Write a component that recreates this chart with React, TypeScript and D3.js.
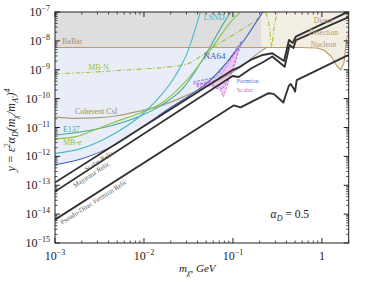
import React from "react";
import * as d3 from "d3";

type Pt = [number, number];

// exclusion curves, [m_chi (GeV), y]
const lsnd: Pt[] = [[1e-3, 1.27e-12], [1.91e-3, 1.82e-12], [4.17e-3, 5.1e-12], [9.08e-3, 2.5e-11], [1.53e-2, 1.24e-10], [2.25e-2, 6.1e-10], [3.15e-2, 4.8e-9], [3.89e-2, 3.5e-8], [4.3e-2, 1.0e-7]];
const e137: Pt[] = [[1e-3, 5.5e-12], [1.91e-3, 7.0e-12], [4.17e-3, 1.13e-11], [9.08e-3, 2.5e-11], [1.53e-2, 5.6e-11], [2.77e-2, 2.34e-10], [4.91e-2, 3.25e-9], [7.64e-2, 3.55e-8], [9.4e-2, 1.0e-7]];
const mbE: Pt[] = [[1e-3, 4.04e-12], [1.68e-3, 4.73e-12], [2.82e-3, 8.3e-12], [4.74e-3, 1.56e-11], [9.08e-3, 3.2e-11], [1.53e-2, 6.6e-11], [2.77e-2, 3.23e-10], [5.58e-2, 4.84e-9], [9.89e-2, 5.3e-8], [0.122, 1.0e-7]];
const na64: Pt[] = [[1e-3, 5.1e-13], [2.18e-3, 8.9e-13], [4.74e-3, 2.5e-12], [1.035e-2, 1.23e-11], [1.98e-2, 4.8e-11], [3.33e-2, 1.34e-10], [5.58e-2, 4.4e-10], [9.4e-2, 2.56e-9], [0.139, 1.26e-8], [0.216, 1.0e-7]];
const coherent: Pt[] = [[1e-3, 2.33e-11], [1.68e-3, 2.07e-11], [2.82e-3, 2.15e-11], [4.74e-3, 2.5e-11], [9.08e-3, 3.75e-11], [1.53e-2, 5.6e-11], [2.77e-2, 1.15e-10], [5.58e-2, 3.23e-10], [0.122, 1.25e-9], [0.216, 4.84e-9], [0.24, 5.9e-9]];
const mbN: Pt[] = [[1e-3, 7.2e-10], [5.41e-3, 9.5e-10], [2.77e-2, 1.47e-9], [6.53e-2, 7.2e-9], [0.139, 3.03e-8], [0.195, 6.2e-8], [0.224, 1.0e-7]];
const mbNDip: Pt[] = [[0.233, 1e-7], [0.259, 2.4e-8], [0.272, 6.2e-9], [0.287, 2.4e-8], [0.318, 1e-7]];
const babar: Pt[] = [[1e-3, 5.9e-9], [0.21, 5.9e-9]];
const nucleon: Pt[] = [[0.21, 5.9e-9], [0.578, 5.9e-9], [0.876, 5.7e-9], [1.05, 4.84e-9], [1.26, 3.0e-9], [1.47, 1.35e-9], [1.63, 9.8e-10], [1.77, 1.72e-9], [1.86, 7.2e-9], [1.93, 1.48e-8], [2.0, 1.73e-8]];

// thermal relic targets
const scalarRelic: Pt[] = [[1e-3, 1.24e-13], [0.099, 9.8e-10], [0.116, 1.2e-9], [0.158, 2.18e-9], [0.216, 3.25e-9], [0.277, 3.72e-9], [0.375, 2.01e-9], [0.427, 1.07e-8], [0.47, 8.45e-9], [0.508, 1.4e-8], [2.0, 1.04e-7]];
const majoranaRelic: Pt[] = [[1e-3, 6.05e-14], [0.099, 6.1e-10], [0.116, 5.6e-10], [0.158, 1.08e-9], [0.219, 1.86e-9], [0.277, 2.88e-9], [0.382, 1.28e-9], [0.433, 7.2e-9], [0.479, 5.7e-9], [0.511, 1.07e-8], [2.0, 6.7e-8]];
const pseudoDiracRelic: Pt[] = [[1e-3, 6.4e-15], [0.1016, 5.8e-11], [0.122, 5.0e-11], [0.252, 1.54e-10], [0.287, 1.46e-10], [0.369, 7.3e-11], [0.392, 1.34e-10], [0.424, 2.75e-10], [0.446, 3.2e-10], [0.479, 2.3e-10], [0.499, 1.75e-10], [0.521, 4.4e-10], [2.0, 3.3e-9]];

// fermion / scalar regions
const fermionRegion: Pt[] = [[0.036, 3.8e-10], [0.0653, 5.6e-10], [0.125, 9.9e-9], [0.1098, 2.56e-9], [0.094, 6.1e-10], [0.0763, 2.17e-10], [0.0559, 3.23e-10], [0.036, 3.23e-10]];
const scalarRegion: Pt[] = [[0.0389, 2.98e-10], [0.0671, 4.4e-10], [0.1218, 7.2e-9], [0.1016, 1.35e-9], [0.0847, 2.34e-10], [0.0783, 1.15e-10], [0.0724, 2.0e-10], [0.0559, 2.75e-10], [0.0389, 2.54e-10]];

const xMajor = [1e-3, 1e-2, 1e-1, 1];
const xLabels = ["-3", "-2", "-1", ""];
const yExponents = [-15, -14, -13, -12, -11, -10, -9, -8, -7];

const W = 366, H = 282;
const L = 55, R = 348.7, T = 12, B = 243;

export default function App() {
  const x = d3.scaleLog().domain([1e-3, 2]).range([L, R]);
  const y = d3.scaleLog().domain([1e-15, 1e-7]).range([B, T]);

  const smooth = d3.line<Pt>().x(d => x(d[0])).y(d => y(d[1])).curve(d3.curveMonotoneX);
  const straight = d3.line<Pt>().x(d => x(d[0])).y(d => y(d[1]));
  const babarPx = y(babar[0][1]);
  const fillArea = d3.area<Pt>().x(d => x(d[0])).y0(babarPx).y1(d => y(d[1])).curve(d3.curveMonotoneX);
  const topArea = d3.area<Pt>().x(d => x(d[0])).y0(T).y1(d => y(d[1]));

  const xMinor: number[] = [];
  for (let e = -3; e <= 0; e++) for (let k = 2; k <= 9; k++) { const v = k * Math.pow(10, e); if (v <= 2) xMinor.push(v); }
  const yMinor: number[] = [];
  for (let e = -15; e < -7; e++) for (let k = 2; k <= 9; k++) yMinor.push(k * Math.pow(10, e));

  const angle = (pts: Pt[]) => -Math.atan2(y(pts[0][1]) - y(pts[1][1]), x(pts[1][0]) - x(pts[0][0])) * 180 / Math.PI;

  const curves: { d: Pt[]; c: string; dash?: string }[] = [
    { d: coherent, c: "#a99d78" },
    { d: mbN, c: "#a3c63c", dash: "5,2,1.2,2" },
    { d: mbNDip, c: "#a3c63c", dash: "5,2,1.2,2" },
    { d: e137, c: "#45a896" },
    { d: mbE, c: "#8cc342" },
    { d: lsnd, c: "#4bbac8" },
    { d: na64, c: "#3c5fb6" },
  ];

  const label = (m: number, v: number, text: string, color: string, size = 8) => (
    <text x={x(m)} y={y(v)} fill={color} fontSize={size}>{text}</text>
  );

  return (
    <svg width={W} height={H} style={{ position: "absolute", left: 0, top: 0, fontFamily: "Liberation Serif, serif" }}>
      <defs>
        <clipPath id="plot"><rect x={L} y={T} width={R - L} height={B - T} /></clipPath>
        <clipPath id="below"><rect x={L} y={babarPx} width={R - L} height={B - babarPx} /></clipPath>
      </defs>
      <rect width={W} height={H} fill="#fff" />
      <g clipPath="url(#plot)">
        <g clipPath="url(#below)">
          {[lsnd, e137, mbE, na64, coherent, mbN].map((c, i) => (
            <path key={i} d={fillArea(c) || ""} fill="#e8edf7" />
          ))}
        </g>
        <path d={topArea(babar) || ""} fill="#dedede" />
        <path d={topArea(nucleon) || ""} fill="#f3eee3" />
        <path d={straight(fermionRegion) || ""} fill="#ddd3f0" />
        <path d={straight(scalarRegion) || ""} fill="#f0c6ef" opacity={0.8} />
        {curves.map((c, i) => (
          <path key={i} d={smooth(c.d) || ""} fill="none" stroke={c.c} strokeWidth={1.1} strokeDasharray={c.dash} />
        ))}
        <path d={straight(fermionRegion) || ""} fill="none" stroke="#5b78d6" strokeWidth={0.9} strokeDasharray="2.5,1.5" />
        <path d={straight(scalarRegion) || ""} fill="none" stroke="#e05ad8" strokeWidth={0.9} strokeDasharray="2.5,1.5" />
        <path d={straight(babar.concat(nucleon)) || ""} fill="none" stroke="#bf9a68" strokeWidth={1.1} />
        {[scalarRelic, majoranaRelic, pseudoDiracRelic].map((c, i) => (
          <path key={i} d={straight(c) || ""} fill="none" stroke="#333" strokeWidth={1.9} strokeLinejoin="round" />
        ))}
      </g>

      {label(1.2e-3, 7.8e-9, "BaBar", "#b0926a")}
      {label(2.36e-3, 1.02e-9, "MB-N", "#9cc43c")}
      {label(4.67e-2, 5.3e-8, "LSND", "#45b6c4")}
      {label(4.67e-2, 2.37e-9, "NA64", "#3c5fb6", 9)}
      {label(1.68e-3, 2.84e-11, "Coherent CsI", "#9a8e68")}
      {label(1.23e-3, 7.0e-12, "E137", "#45a896")}
      {label(1.23e-3, 2.5e-12, "MB-e", "#8cc342")}
      {label(0.11, 3.5e-10, "Fermion", "#5b78d6", 6.5)}
      {label(0.11, 1.7e-10, "Scalar", "#e05ad8", 6.5)}
      {label(0.81, 4.3e-8, "Direct", "#b09670", 7.5)}
      {label(0.711, 1.54e-8, "Detection", "#b09670", 7.5)}
      {label(0.75, 6.15e-9, "Nucleon", "#b09670", 7.5)}

      <text transform={`translate(${x(2.24e-3)},${y(2.91e-13)}) rotate(${angle(scalarRelic)})`} fontSize={6.8} fill="#555">Scalar Relic</text>
      <text transform={`translate(${x(1.68e-3)},${y(8.1e-14)}) rotate(${angle(majoranaRelic)})`} fontSize={6.8} fill="#555">Majorana Relic</text>
      <text transform={`translate(${x(1.2e-3)},${y(4.26e-15)}) rotate(${angle(pseudoDiracRelic)})`} fontSize={6.8} fill="#555">Pseudo-Dirac Fermion Relic</text>

      <text x={x(0.265)} y={y(7.4e-15)} fontSize={11.5} fill="#222">
        <tspan fontStyle="italic">α</tspan><tspan dy={3} fontSize={8} fontStyle="italic">D</tspan><tspan dy={-3}> = 0.5</tspan>
      </text>

      {/* frame and ticks */}
      <rect x={L} y={T} width={R - L} height={B - T} fill="none" stroke="#222" strokeWidth={1} />
      {xMajor.map(v => (
        <g key={v}>
          <line x1={x(v)} x2={x(v)} y1={B} y2={B - 5} stroke="#222" />
          <line x1={x(v)} x2={x(v)} y1={T} y2={T + 5} stroke="#222" />
        </g>
      ))}
      {xMinor.map(v => (
        <g key={v}>
          <line x1={x(v)} x2={x(v)} y1={B} y2={B - 2.5} stroke="#222" strokeWidth={0.8} />
          <line x1={x(v)} x2={x(v)} y1={T} y2={T + 2.5} stroke="#222" strokeWidth={0.8} />
        </g>
      ))}
      {yExponents.map(e => (
        <g key={e}>
          <line x1={L} x2={L + 5} y1={y(Math.pow(10, e))} y2={y(Math.pow(10, e))} stroke="#222" />
          <line x1={R} x2={R - 5} y1={y(Math.pow(10, e))} y2={y(Math.pow(10, e))} stroke="#222" />
          <text x={50} y={y(Math.pow(10, e)) + 4} textAnchor="end" fontSize={12} fill="#222">
            10<tspan dy={-5} fontSize={8}>{"\u2212" + (-e)}</tspan>
          </text>
        </g>
      ))}
      {yMinor.map(v => (
        <g key={v}>
          <line x1={L} x2={L + 2.5} y1={y(v)} y2={y(v)} stroke="#222" strokeWidth={0.8} />
          <line x1={R} x2={R - 2.5} y1={y(v)} y2={y(v)} stroke="#222" strokeWidth={0.8} />
        </g>
      ))}
      {xMajor.map((v, i) => (
        <text key={v} x={x(v)} y={260} textAnchor="middle" fontSize={12} fill="#222">
          {xLabels[i] ? <>10<tspan dy={-5} fontSize={8}>{"\u2212" + xLabels[i].slice(1)}</tspan></> : "1"}
        </text>
      ))}

      <text x={179} y={272} fontSize={11} fill="#222" fontStyle="italic">
        m<tspan dy={3} fontSize={8}>χ</tspan><tspan dy={-3}>, GeV</tspan>
      </text>

      <text transform="translate(15,130) rotate(-90)" textAnchor="middle" fontSize={12} fill="#222" fontStyle="italic">
        <tspan>y = ε</tspan><tspan dy={-5} fontSize={8}>2</tspan><tspan dy={5}>α</tspan><tspan dy={3} fontSize={8}>D</tspan><tspan dy={-3}>(m</tspan><tspan dy={3} fontSize={8}>χ</tspan><tspan dy={-3}>/m</tspan><tspan dy={3} fontSize={8}>A′</tspan><tspan dy={-3}>)</tspan><tspan dy={-5} fontSize={8}>4</tspan>
      </text>
    </svg>
  );
}
